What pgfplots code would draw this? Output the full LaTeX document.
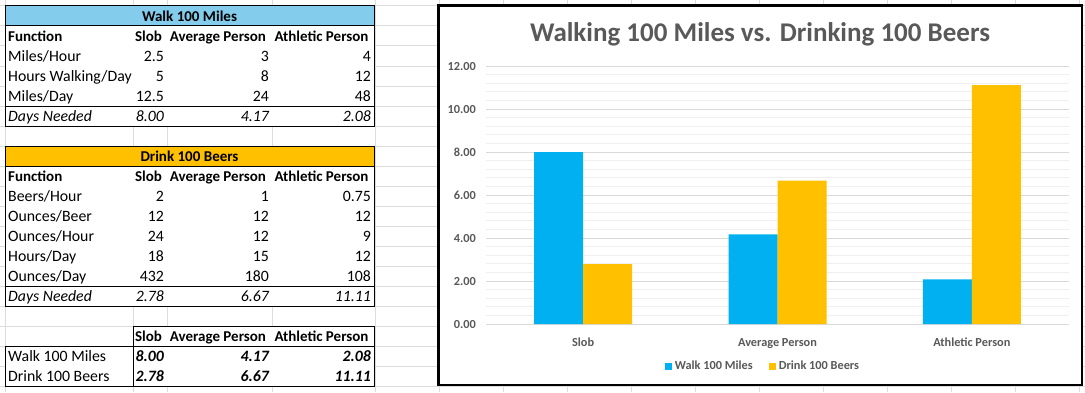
\documentclass[border=0pt]{standalone}
\usepackage{pgfplots}
\pgfplotsset{compat=1.18}
\usepackage{fontspec}
\setmainfont{Carlito}
\definecolor{hdrblue}{HTML}{83CCEB}
\definecolor{hdrorange}{HTML}{FFC000}
\definecolor{barblue}{HTML}{00B0F0}
\definecolor{barorange}{HTML}{FFC000}
\definecolor{txtgray}{HTML}{595959}
\definecolor{sheetgrid}{HTML}{DCDCDC}
\definecolor{majgrid}{HTML}{D9D9D9}
\definecolor{mingrid}{HTML}{EFEFEF}

\newcommand{\hb}{\bfseries\fontsize{15}{17}\selectfont}
\newcommand{\trow}[5]{%
  \node[anchor=base west] at (8,#1) {#2};
  \node[anchor=base east] at (164,#1) {#3};
  \node[anchor=base east] at (269,#1) {#4};
  \node[anchor=base east] at (371,#1) {#5};}
\newcommand{\thead}[1]{%
  \node[anchor=base west] at (8,#1) {\hb Function};
  \node[anchor=base] at (148.5,#1) {\hb Slob};
  \node[anchor=base] at (218,#1) {\hb Average Person};
  \node[anchor=base] at (321.5,#1) {\hb Athletic Person};}

\begin{document}
\begin{tikzpicture}[x=1pt,y=1pt]
\useasboundingbox (0,0) rectangle (1085,392);
\begin{scope}[yshift=392pt, y=-1pt, every node/.style={inner sep=0pt, font=\fontsize{15.8}{18}\selectfont}]
  % spreadsheet gridlines
  \foreach \yy in {6,26,...,386} \draw[sheetgrid, line width=1pt] (0,\yy) -- (1085,\yy);
  \foreach \xx in {5,133,167,272,375} \draw[sheetgrid, line width=1pt] (\xx,0) -- (\xx,392);
  \foreach \xx in {439,503,...,1079} \draw[sheetgrid, line width=1pt] (\xx,0) -- (\xx,392);
  % table 1
  \fill[white] (5,6) rectangle (374,126);
  \fill[hdrblue] (5,6) rectangle (374,26);
  \draw[black, line width=1pt] (5,6) rectangle (374,126);
  \draw[black, line width=1pt] (5,26) -- (374,26);
  \draw[black, line width=1pt] (5,106) -- (374,106);
  \node[anchor=base] at (189.5,21.5) {\hb Walk 100 Miles};
  \thead{41.5}
  \trow{61.5}{Miles/Hour}{2.5}{3}{4}
  \trow{81.5}{Hours Walking/Day}{5}{8}{12}
  \trow{101.5}{Miles/Day}{12.5}{24}{48}
  \trow{121.5}{\itshape Days Needed}{\itshape 8.00}{\itshape 4.17}{\itshape 2.08}
  % table 2
  \fill[white] (5,146) rectangle (374,306);
  \fill[hdrorange] (5,146) rectangle (374,166);
  \draw[black, line width=1pt] (5,146) rectangle (374,306);
  \draw[black, line width=1pt] (5,166) -- (374,166);
  \draw[black, line width=1pt] (5,286) -- (374,286);
  \node[anchor=base] at (189.5,161.5) {\hb Drink 100 Beers};
  \thead{181.5}
  \trow{201.5}{Beers/Hour}{2}{1}{0.75}
  \trow{221.5}{Ounces/Beer}{12}{12}{12}
  \trow{241.5}{Ounces/Hour}{24}{12}{9}
  \trow{261.5}{Hours/Day}{18}{15}{12}
  \trow{281.5}{Ounces/Day}{432}{180}{108}
  \trow{301.5}{\itshape Days Needed}{\itshape 2.78}{\itshape 6.67}{\itshape 11.11}
  % table 3
  \fill[white] (133,326) rectangle (374,346);
  \fill[white] (5,346) rectangle (374,386);
  \draw[black, line width=1pt] (133,326) rectangle (374,346);
  \draw[black, line width=1pt] (5,346) rectangle (374,386);
  \draw[black, line width=1pt] (133,326) -- (133,386);
  \node[anchor=base] at (148.5,341.5) {\hb Slob};
  \node[anchor=base] at (218,341.5) {\hb Average Person};
  \node[anchor=base] at (321.5,341.5) {\hb Athletic Person};
  \trow{361.5}{Walk 100 Miles}{\bfseries\itshape 8.00}{\bfseries\itshape 4.17}{\bfseries\itshape 2.08}
  \trow{381.5}{Drink 100 Beers}{\bfseries\itshape 2.78}{\bfseries\itshape 6.67}{\bfseries\itshape 11.11}
  % chart box
  \filldraw[fill=white, draw=black, line width=2.6pt] (438.5,5.5) rectangle (1082,385);
  \node[anchor=base, text=txtgray, font=\bfseries\fontsize{27}{30}\selectfont] at (760,41.5) {Walking 100 Miles vs. Drinking 100 Beers};
\end{scope}

\begin{axis}[
  at={(486pt,68pt)}, anchor=south west,
  scale only axis, width=583pt, height=258pt,
  ymin=0, ymax=12, xmin=-0.5, xmax=2.5,
  ytick={0,2,...,12}, minor y tick num=4,
  xtick={0,1,2}, xticklabels={Slob,Average Person,Athletic Person},
  ybar=0pt, bar width=49pt,
  axis line style={draw=none}, tick style={draw=none},
  ymajorgrids, yminorgrids,
  major grid style={draw=majgrid, line width=1pt},
  minor grid style={draw=mingrid, line width=0.9pt},
  yticklabel={\pgfmathprintnumber[fixed,fixed zerofill,precision=2,assume math mode=true]{\tick}},
  yticklabel style={anchor=base east, inner sep=0pt, xshift=-10pt, yshift=-4pt, text=txtgray, font=\bfseries\fontsize{12.3}{14}\selectfont},
  xticklabel style={anchor=base, inner sep=0pt, yshift=-18pt, text=txtgray, font=\bfseries\fontsize{12.3}{14}\selectfont},
  legend columns=2,
  legend style={at={(0.4734,-0.1628)}, anchor=center, draw=none, fill=none,
    font=\bfseries\fontsize{12.3}{14}\selectfont, text=txtgray,
    /tikz/every odd column/.append style={column sep=3pt},
    /tikz/every even column/.append style={column sep=16pt},
    nodes={inner ysep=1.5pt, inner xsep=0pt}},
  sq/.style={legend image code/.code={\fill[##1] (0pt,-4pt) rectangle (7pt,3pt);}},
]
\addplot[fill=barblue, draw=none, sq] coordinates {(0,8.00) (1,4.17) (2,2.08)};
\addplot[fill=barorange, draw=none, sq] coordinates {(0,2.78) (1,6.67) (2,11.11)};
\legend{Walk 100 Miles, Drink 100 Beers}
\end{axis}
\end{tikzpicture}
\end{document}
